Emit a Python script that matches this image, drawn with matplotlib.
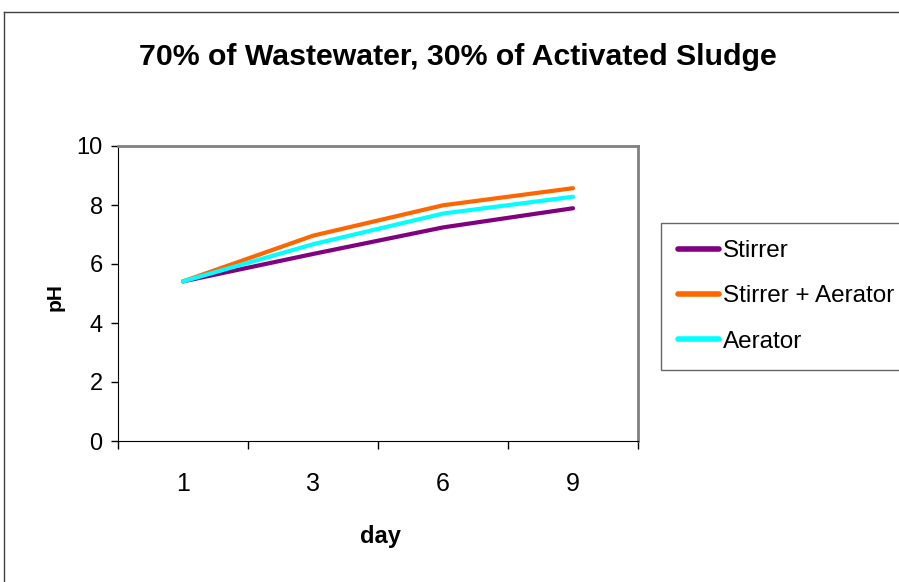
import matplotlib.pyplot as plt
from matplotlib.lines import Line2D

plt.rcParams["font.family"] = ["Liberation Sans", "DejaVu Sans"]

days = ["1", "3", "6", "9"]
stirrer = [5.41, 6.34, 7.24, 7.89]
stirrer_aerator = [5.41, 6.96, 7.99, 8.57]
aerator = [5.41, 6.67, 7.71, 8.28]

W, H = 899, 582
fig = plt.figure(figsize=(W / 100, H / 100), dpi=100)
fig.patch.set_facecolor("white")

# outer chart border (cut off at right and bottom)
fig.add_artist(Line2D([4 / W, 4 / W], [0, 1 - 12 / H], color="#404040", lw=1))
fig.add_artist(Line2D([4 / W, 1], [1 - 12 / H, 1 - 12 / H], color="#404040", lw=1))

ax = fig.add_axes([118 / W, 1 - 441 / H, 520 / W, 295 / H])
x = range(len(days))
ax.plot(x, stirrer, color="#800080", lw=3, label="Stirrer", solid_capstyle="round")
ax.plot(x, stirrer_aerator, color="#FF6600", lw=3, label="Stirrer + Aerator", solid_capstyle="round")
ax.plot(x, aerator, color="#00FFFF", lw=3, label="Aerator", solid_capstyle="round")

ax.set_xlim(-0.5, len(days) - 0.5)
ax.set_ylim(0, 10)
ax.set_yticks(range(0, 11, 2))
ax.tick_params(axis="y", direction="out", length=5, width=1, pad=6, labelsize=17)

ax.set_xticks([i - 0.5 for i in range(len(days) + 1)])
ax.set_xticklabels([])
ax.set_xticks(list(x), minor=True)
ax.set_xticklabels(days, minor=True)
ax.tick_params(axis="x", which="major", direction="out", length=6, width=1)
ax.tick_params(axis="x", which="minor", length=0, pad=22, labelsize=18)

for s in ["top", "right"]:
    ax.spines[s].set_color("#808080")
    ax.spines[s].set_linewidth(2)
ax.spines["left"].set_color("black")
ax.spines["bottom"].set_color("black")

ax.set_xlabel("day", fontsize=17, fontweight="bold")
ax.xaxis.set_label_coords((380 - 118) / 520, (441 - 537) / 295)
ax.xaxis.label.set_va("center")
ax.set_ylabel("pH", fontsize=15, fontweight="bold")
ax.yaxis.set_label_coords((55 - 118) / 520, (441 - 297) / 295)
ax.yaxis.label.set_va("center")

fig.text(458 / W, 1 - 57 / H, "70% of Wastewater, 30% of Activated Sludge",
         fontsize=21.8, fontweight="bold", ha="center", va="center")

leg = ax.legend(loc="upper left", bbox_to_anchor=(661 / W, 1 - 223 / H),
                bbox_transform=fig.transFigure, fontsize=17.5, frameon=True,
                fancybox=False, edgecolor="#404040", handlelength=1.7,
                handletextpad=0.15, labelspacing=0.96, borderpad=0.7,
                borderaxespad=0)
leg.get_frame().set_linewidth(1)
for line in leg.get_lines():
    line.set_linewidth(4)

fig.savefig("out.png", dpi=100)
